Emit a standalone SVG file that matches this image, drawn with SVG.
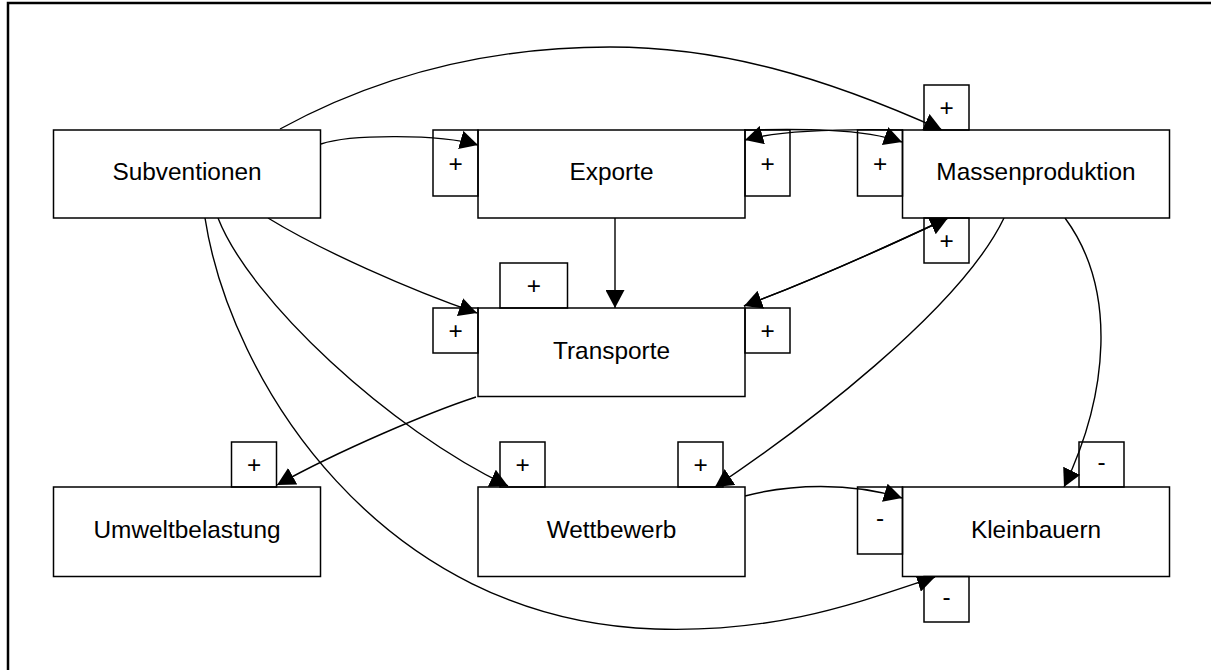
<svg xmlns="http://www.w3.org/2000/svg" width="1211" height="670" viewBox="0 0 1211 670">
<style>
  .frame { fill: none; stroke: #000; stroke-width: 2.5; }
  .node rect { fill: #fff; stroke: #000; stroke-width: 1.5; }
  .node text { font-family: "Liberation Sans", Arial, sans-serif; font-size: 24.4px; fill: #000; text-anchor: middle; }
  .lbl rect { fill: none; stroke: #000; stroke-width: 1.5; }
  .lbl text { font-family: "Liberation Sans", Arial, sans-serif; font-size: 24.4px; fill: #000; text-anchor: middle; }
  .conn path { fill: none; stroke: #000; stroke-width: 1.4; marker-end: url(#arrow); }
</style>
<defs>
  <marker id="arrow" markerUnits="userSpaceOnUse" viewBox="0 0 18 19" markerWidth="18" markerHeight="19" refX="18" refY="9.5" orient="auto">
    <path d="M0,0 L18,9.5 L0,19 z" fill="#000"/>
  </marker>
</defs>
<rect x="0" y="0" width="1211" height="670" fill="#fff"/>
<path class="frame" d="M8,672 L8,3 L1213,3"/>

<g id="connectors" class="conn">
  <path id="subv-massen" d="M280,129 C390,69 500,47 610,47 C720,47 822,76 942,130"/>
  <path id="subv-exporte" d="M321,144 C350,134 440,134 478,145"/>
  <path id="exporte-transporte" d="M615,218 L615,308"/>
  <path id="exporte-massen" d="M744,130 C800,129 862,128 902,142"/>
  <path id="massen-exporte" d="M903,130 C850,129 780,130 745,140"/>
  <path id="massen-transporte" d="M948,218 C880,250 800,285 744,306"/>
  <path id="transporte-massen" d="M744,306 C800,285 880,250 948,218"/>
  <path id="subv-transporte" d="M268,218 C320,250 410,290 477,313"/>
  <path id="transporte-umwelt" d="M476,397 C430,412 340,450 277,485"/>
  <path id="subv-wettbewerb" d="M218,218 C250,300 390,430 508,486"/>
  <path id="subv-klein" d="M205,218 C230,380 380,620 655,629 C780,633 859,602 935,577"/>
  <path id="massen-wettbewerb" d="M1004,218 C960,310 800,430 715,487"/>
  <path id="massen-klein" d="M1065,218 C1118,290 1108,395 1064,487"/>
  <path id="wettbewerb-klein" d="M745,496 C790,484 850,482 902,498"/>
</g>

<g id="subventionen" class="node"><rect x="53.5" y="130" width="267" height="88"/><text x="187" y="180">Subventionen</text></g>
<g id="exporte" class="node"><rect x="478" y="130" width="267" height="88"/><text x="611.5" y="180">Exporte</text></g>
<g id="massenproduktion" class="node"><rect x="902.5" y="130" width="267" height="88"/><text x="1036" y="180">Massenproduktion</text></g>
<g id="transporte" class="node"><rect x="478" y="308" width="267" height="88.5"/><text x="611.5" y="358.5">Transporte</text></g>
<g id="umweltbelastung" class="node"><rect x="53.5" y="487" width="267" height="89.5"/><text x="187" y="537.5">Umweltbelastung</text></g>
<g id="wettbewerb" class="node"><rect x="478" y="487" width="267" height="89.5"/><text x="611.5" y="537.5">Wettbewerb</text></g>
<g id="kleinbauern" class="node"><rect x="902.5" y="487" width="267" height="89.5"/><text x="1036" y="537.5">Kleinbauern</text></g>

<g id="labels" class="lbl">
  <g id="lbl-subv-exporte"><rect x="433" y="130" width="45" height="66"/><text x="455.5" y="171.6">+</text></g>
  <g id="lbl-massen-exporte"><rect x="745" y="130" width="45" height="66"/><text x="767.5" y="171.6">+</text></g>
  <g id="lbl-exporte-massen"><rect x="857.5" y="130" width="45" height="66"/><text x="880" y="171.6">+</text></g>
  <g id="lbl-subv-massen"><rect x="924" y="85" width="45" height="45"/><text x="946.5" y="116">+</text></g>
  <g id="lbl-transporte-massen"><rect x="924" y="218" width="45" height="45"/><text x="946.5" y="249">+</text></g>
  <g id="lbl-exporte-transporte"><rect x="500" y="263" width="67.5" height="45"/><text x="533.75" y="294">+</text></g>
  <g id="lbl-subv-transporte"><rect x="433" y="308" width="45" height="45"/><text x="455.5" y="339">+</text></g>
  <g id="lbl-massen-transporte"><rect x="745" y="308" width="45" height="45"/><text x="767.5" y="339">+</text></g>
  <g id="lbl-transporte-umwelt"><rect x="231.5" y="442" width="45" height="45"/><text x="254" y="473">+</text></g>
  <g id="lbl-subv-wettbewerb"><rect x="500" y="442" width="45" height="45"/><text x="522.5" y="473">+</text></g>
  <g id="lbl-massen-wettbewerb"><rect x="678" y="442" width="45" height="45"/><text x="700.5" y="473">+</text></g>
  <g id="lbl-massen-klein"><rect x="1079" y="442" width="45" height="45"/><text x="1101.5" y="469.8">-</text></g>
  <g id="lbl-wettbewerb-klein"><rect x="857.5" y="487" width="45" height="67"/><text x="880" y="525.8">-</text></g>
  <g id="lbl-subv-klein"><rect x="924" y="576.5" width="45" height="45.5"/><text x="946.5" y="604.8">-</text></g>
</g>
</svg>
